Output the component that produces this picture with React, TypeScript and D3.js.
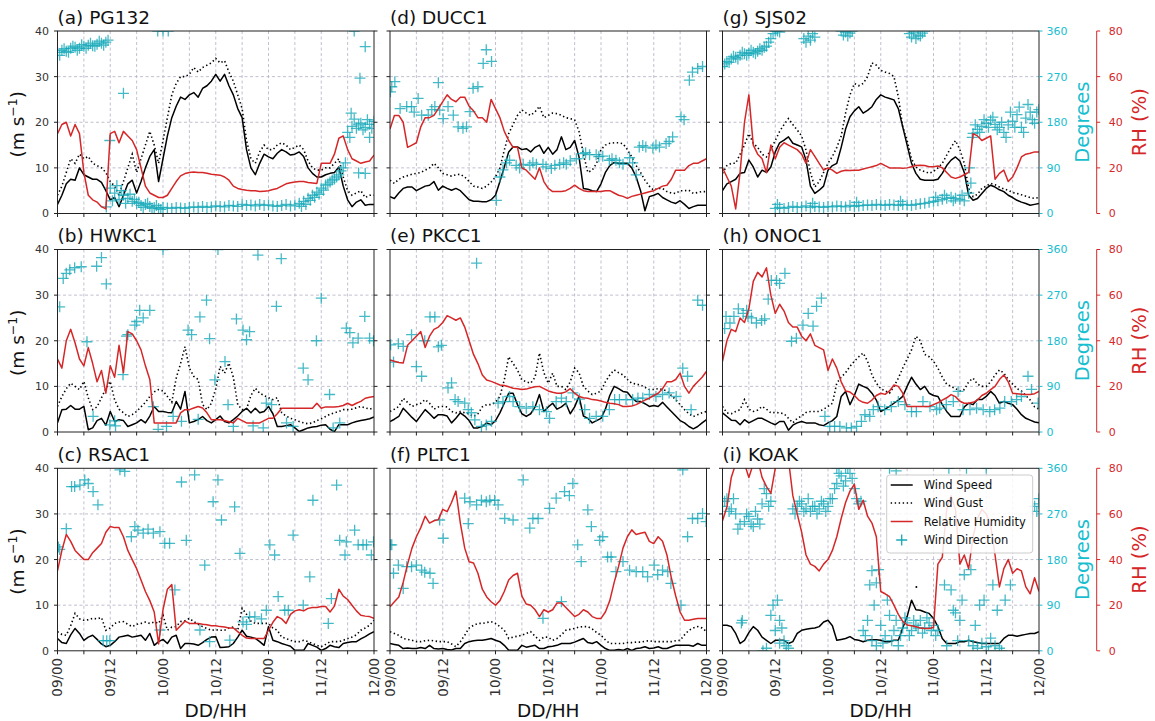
import * as d3 from 'd3'

type Pt = [number, number | null]

// ---- axes / layout values ----
const X_TICKS = [0, 12, 24, 36, 48, 60, 72]
const X_TICK_LABELS = ['09/00', '09/12', '10/00', '10/12', '11/00', '11/12', '12/00']
const X_MINOR = [0, 6, 12, 18, 24, 30, 36, 42, 48, 54, 60, 66, 72]
const SPD_TICKS = [0, 10, 20, 30, 40]
const DIR_TICKS = [0, 90, 180, 270, 360]
const RH_TICKS = [0, 20, 40, 60, 80]
const TITLES = ['(a) PG132', '(b) HWKC1', '(c) RSAC1', '(d) DUCC1', '(e) PKCC1', '(f) PLTC1', '(g) SJS02', '(h) ONOC1', '(i) KOAK']
const LEGEND_LABELS = ['Wind Speed', 'Wind Gust', 'Relative Humidity', 'Wind Direction']

// ---- PG132 (hourly from 09/00) ----
const PG132_SPD = [2, 4, 6.5, 7.5, 7.3, 10, 8.5, 8, 7.5, 7.5, 6.8, 5,
  3, 3.5, 1.5, 4, 6.5, 7.3, 4.5, 7, 10, 12.5, 14, 7,
  12, 17, 21, 23.5, 25.5, 25, 26, 26.5, 25.5, 27.4, 28, 29,
  30.5, 29, 30.5, 28, 26, 23, 21, 14, 10, 8.5, 11, 13,
  12.4, 12, 13.2, 14, 13.5, 12.8, 13, 13.5, 12.5, 10, 8.8, 8,
  8, 8.5, 8.8, 9, 10.2, 6, 3, 1.5, 2.5, 3, 1.8, 2,
  2]
const PG132_GUST = [4, 6, 9, 12, 11, 13, 12, 12.5, 11, 10.5, 10, 9,
  7, 6, 4, 7, 10, 13, 9, 12, 15, 18, 15, 11,
  16, 21, 26, 28.5, 30, 30, 30.5, 32, 31, 32, 32.5, 33,
  34, 33, 33.5, 31, 29, 26, 23, 16, 12, 11, 13.5, 15,
  14, 14, 15, 15.5, 15, 14, 14.5, 15, 14, 11.5, 10, 9.5,
  9.5, 10, 10, 11, 12, 8, 5, 4, 4.5, 5, 3.5, 4,
  4]
const PG132_RH = [35, 39, 40, 34, 39, 35, 18, 8, 6, 5, 3, 2,
  35, 36, 31, 36, 34, 32, 28, 20, 12, 9, 8, 7,
  7, 8, 11, 14, 16.5, 17.5, 18, 18.2, 18, 18, 17.6, 17.2,
  17, 16.8, 16, 14.6, 12, 11, 10.5, 10.2, 10, 10, 9.6, 9.8,
  10, 10.5, 11, 12, 13, 13.5, 13.8, 14, 14, 13.6, 13.4, 13.2,
  22, 22, 22, 26, 33, 34, 28, 24, 23, 22, 22.6, 23,
  25.6]
const PG132_DIR = [318, 322, 320, 326, 328, 326, 330, 332, 331, 334, 336, 338,
  50, 40, 28, 36, 30, 24, 20, 16, 18, 14, 12, 10,
  12, 11, 10, 12, 11, 10, 12, 13, 12, 14, 12, 13,
  15, 14, 13, 16, 15, 14, 18, 16, 17, 15, 18, 16,
  17, 15, 14, 16, 18, 15, 17, 20, 24, 30, 36, 42,
  50, 56, 62, 68, 76, 90, 160, 172, 168, 178, 170, 176,
  182]
const PG132_DIR_X: [number, number][] = [[0.5, 312], [1.5, 325], [2.5, 318], [3.5, 330], [4.5, 322], [5.5, 333],
  [6.5, 326], [7.5, 336], [8.5, 330], [9.5, 340], [10.5, 332], [11.5, 342], [11.1, 13], [11.9, 144], [12.5, 25],
  [13.5, 55], [14.5, 45], [15, 237], [15.5, 20], [16.5, 38], [17.5, 28], [18.5, 22], [19.5, 12], [20.5, 20],
  [21.5, 10], [22.5, 16], [23.5, 8], [22.8, 360], [24, 360], [25.2, 360], [55.5, 14], [56.5, 18], [57.5, 26],
  [58.5, 32], [59.5, 38], [60.5, 46], [61.5, 58], [62.5, 66], [63.5, 72], [64.5, 84], [65.5, 100], [66.5, 150],
  [67.5, 186], [68.5, 175], [69.5, 165], [70.5, 185], [71.5, 168], [67.5, 360], [68.5, 80], [70, 329],
  [68.8, 267], [70, 79], [71, 150], [66.8, 198]]

// ---- HWKC1 ----
const HWKC1_SPD = [2, 4.9, 5, 5.8, 5, 5, 5.6, 0.5, 0.9, 2.5, 3, 1.5,
  4.5, 2.3, 2.7, 2.5, 1.2, 1.6, 2, 2.7, 2, 3.5, 5.6, 4.5,
  4.5, 4.3, 4.2, 6.7, 5, 8.9, 2, 2.3, 2.7, 3.4, 2.5, 2,
  2.7, 3.5, 2.3, 2, 2.7, 3.5, 4.5, 5.2, 4.2, 5.2, 4.2, 4.5,
  5.6, 4, 1.2, 1.2, 1.4, 1.6, 0.9, 0.1, 0.5, 0.9, 1.1, 1.2,
  1.5, 1.6, 0.6, 0.1, 1.6, 1.6, 1.6, 2, 2.3, 2.5, 2.7, 2.9,
  3.3]
const HWKC1_GUST = [5.6, 7.8, 9.5, 10.7, 10, 9.3, 11.1, 7.5, 4.9, 5.5, 7.5, 9.5,
  11.1, 7, 5, 4.2, 3.4, 3.8, 4.5, 5.5, 6.5, 7.8, 8.8, 9.3,
  9, 7.8, 6.5, 11.8, 15, 18.7, 14, 12.2, 11.5, 6, 4.9, 6.3,
  9.5, 14.4, 12.9, 15.1, 12, 6, 4.9, 5, 8, 9.6, 8.5, 8,
  7.5, 7.1, 7.5, 4.2, 3.5, 3, 2.7, 2.3, 2, 1.8, 2, 2.5,
  2.9, 3.4, 3.9, 4.2, 4.5, 4.9, 4.9, 5, 5.3, 5.6, 5.3, 5,
  5.3]
const HWKC1_RH = [32, 28, 40, 45, 39, 32, 29, 37, 30, 22, 27, 17,
  29, 24, 38, 26, 44, 43, 40, 36, 29, 23, 4, 4,
  4, 4, 4, 4, 8.4, 9.8, 9.8, 10.5, 11.2, 10.5, 8.4, 5.4,
  5.4, 5.4, 5, 4.5, 4, 6, 5, 4, 4, 4, 4, 5,
  6, 6, 8, 10.4, 10.4, 10.4, 10.4, 10.4, 10.4, 10.4, 10.4, 12.6,
  10.4, 11, 11, 11, 11.2, 11.6, 12.6, 11.6, 12.6, 13.4, 14.8, 15.2,
  15.6]
const HWKC1_DIR_X: [number, number][] = [[0.5, 247], [1.3, 303], [2, 313], [2.8, 320], [3.9, 324], [5.4, 326],
  [6.7, 178], [8.1, 31], [8.9, 327], [10, 344], [11.1, 292], [11.9, 14], [13, 22], [13.2, 12], [14.9, 113],
  [15.7, 189], [16, 192], [17.6, 211], [18, 218], [18.7, 240], [19.5, 225], [21, 240], [21.8, 50], [22.9, 5],
  [24, 360], [24.8, 11], [26.3, 31], [28.2, 21], [29.7, 201], [30.5, 192], [32, 25], [32.4, 227], [33.9, 260],
  [34.6, 184], [35.8, 103], [36.5, 360], [38.1, 139], [38.8, 54], [40, 11], [40.7, 223], [42.2, 201], [43, 182],
  [43.7, 198], [44.5, 12], [45.6, 349], [46.8, 8], [47.5, 57], [48.7, 54], [49.8, 248], [50.9, 342], [52.1, 18],
  [53.6, 11], [55.9, 126], [57, 103], [58.9, 180], [60, 264], [61.9, 74], [62.7, 8], [64.2, 18], [65.7, 205],
  [66.5, 196], [67.2, 176], [68.4, 185], [69.9, 228], [71, 185], [71.9, 180]]

// ---- RSAC1 ----
const RSAC1_SPD = [2.7, 1.8, 1.6, 3.5, 4.9, 3.8, 2.3, 3, 3.4, 2.5, 1.5, 0.9,
  1.2, 2, 3, 3.2, 3.4, 3, 3.2, 3.4, 2.3, 3.8, 1.2, 2,
  2.5, 1.6, 3, 3.4, 0.5, 1.6, 1.6, 1.5, 1.2, 1.8, 2.5, 3,
  3.1, 0.7, 0.8, 0.9, 1.6, 3, 4.5, 3.2, 3, 2.7, 2, 1.2,
  5.3, 2.3, 2, 1.6, 1.3, 1, 0.1, 0.1, 0.1, 1.6, 1.2, 0.8,
  0.1, 0.5, 1.2, 0.9, 0.7, 1.6, 1.8, 2, 2, 2.6, 3.1, 3.7,
  4.2]
const RSAC1_GUST = [4.2, 3.6, 3.4, 5.5, 8.2, 7, 6.7, 6.8, 7.1, 7, 7.3, 4.5,
  5, 6, 6.3, 6.4, 5.8, 5.3, 5.8, 6, 6.3, 6, 6.3, 6,
  7.8, 4.5, 5.2, 5.3, 6.4, 6.6, 7.1, 6.4, 5.8, 5.3, 4.9, 4.5,
  4.6, 4.5, 4.5, 5, 5.2, 4.5, 9.3, 8, 6.5, 6, 6, 6,
  6, 5, 4.5, 3, 2.7, 2.3, 2, 2, 2.3, 2, 1.6, 1.2,
  0.9, 1.4, 2, 2, 2, 2.3, 2.7, 3, 3.5, 4.5, 5, 5.6,
  6.7]
const RSAC1_RH = [35, 44, 51, 48, 44, 42, 40, 40, 43, 45, 47, 52,
  54.5, 54, 54, 50, 44, 40, 36, 31, 26, 22, 17, 3,
  18, 27, 29, 9, 11, 13, 12, 12, 12, 11.6, 11.4, 11,
  11, 10.6, 10.4, 10, 10, 8.4, 6.8, 5.6, 5.4, 5.4, 5.4, 5.4,
  9, 12.5, 15, 14, 12, 16, 17.5, 18, 17.5, 18.6, 19, 19,
  19.4, 19.4, 17, 19.6, 27, 24, 22.5, 20, 17.5, 15.6, 15.2, 15,
  14.2]
const RSAC1_DIR_X: [number, number][] = [[0.2, 205], [0.5, 200], [2, 241], [3.2, 324], [3.9, 324], [5.1, 327],
  [6.2, 337], [7, 330], [8.1, 314], [9.2, 288], [10.4, 20], [11.2, 20], [11.9, 20], [14.2, 357], [15.3, 354],
  [16.8, 225], [17.6, 245], [18.3, 238], [19.5, 232], [20.6, 240], [21.8, 232], [23.3, 235], [23.3, 41],
  [24.4, 212], [25.5, 212], [26.7, 120], [28.2, 333], [29.3, 218], [31.2, 347], [32.4, 41], [33.5, 169],
  [34.6, 18], [35.4, 294], [36.5, 337], [37.3, 258], [39.2, 21], [40.3, 284], [41.5, 192], [42.2, 57],
  [43, 52], [43.7, 67], [44.9, 67], [46.4, 63], [47.5, 80], [48.3, 209], [49.4, 189], [50.2, 107], [51.7, 80],
  [52.5, 80], [53.6, 228], [55.9, 90], [57.4, 146], [58.1, 297], [61.6, 54], [62.3, 103], [63.5, 327],
  [64.2, 218], [65.4, 189], [65.7, 215], [67.6, 238], [68.4, 209], [69.5, 209], [70.3, 209], [71.4, 189],
  [71.9, 215]]

// ---- DUCC1 ----
const DUCC1_SPD = [3.7, 3.3, 4.5, 5.5, 5.8, 5.8, 5, 5.5, 6, 6.2, 7, 5.1,
  6, 5.5, 5.1, 5.5, 5, 4, 3, 2.7, 2.7, 2.6, 2.6, 3,
  4, 7, 10.2, 13.5, 14.6, 14.6, 14, 14.2, 13.5, 14.5, 15, 13.2,
  14.5, 13, 14, 16.8, 14, 14.5, 16, 12.4, 5.5, 5.3, 5, 4.8,
  6.5, 9, 10.5, 11.2, 11, 11, 11, 10, 8, 5, 0.6, 3.7,
  4, 4.4, 3.5, 3, 2.5, 2.2, 2.8, 2, 1.1, 1.5, 1.8, 1.8,
  1.8]
const DUCC1_GUST = [7.3, 6.6, 7.5, 8, 8.3, 8.6, 8.8, 9, 9.5, 10, 11, 10,
  8.8, 8.5, 8.2, 8.5, 8.6, 8, 7, 6, 5.8, 5.5, 6, 6.9,
  8, 10, 13.9, 17.5, 19.5, 21.5, 22.7, 22, 21.5, 22.3, 23.5, 21,
  21.5, 22, 21.9, 21.5, 21, 20.8, 20.5, 18, 13, 9, 9.5, 11,
  14, 15, 15.4, 15.5, 15.5, 15.3, 14, 12.4, 10.5, 9, 7.3, 6,
  5.1, 5.5, 5.5, 4.8, 4.5, 4.4, 5, 5, 5.1, 4.4, 4.6, 4.8,
  4.8]
const DUCC1_RH = [37, 43, 43, 40, 29, 30, 31, 38, 42, 42, 43, 46,
  49, 52, 50, 49, 51, 51, 47, 45, 42, 42, 40, 50,
  46, 42, 36, 32, 29, 29, 20, 19, 17, 15, 20, 14,
  11, 9.6, 9.6, 9.6, 10, 11, 12.4, 11, 10, 9.6, 9.6, 9.6,
  9.6, 10, 10, 9, 8, 7.5, 6.6, 7.5, 8, 8.5, 9, 9.5,
  10, 11, 12, 12.4, 15, 19, 19, 19, 21, 22, 22, 23,
  24]
const DUCC1_DIR_X: [number, number][] = [[0.1, 240], [0.4, 250], [1.1, 260], [2.3, 207], [3.8, 211], [4.9, 211],
  [5.5, 200], [6.4, 227], [7.2, 194], [8.7, 194], [9.5, 205], [10.2, 211], [11, 258], [11.3, 204], [12.1, 187],
  [13.2, 211], [14.4, 194], [15.5, 171], [16.6, 168], [17.4, 171], [18.2, 201], [18.9, 247], [20, 250],
  [21.2, 296], [21.9, 323], [23.1, 300], [24.2, 26], [25, 72], [25.7, 86], [26.5, 100], [27.2, 105], [28.7, 95],
  [29.5, 90], [30.3, 97], [31.8, 95], [32.5, 100], [33.3, 97], [34.8, 97], [35.5, 92], [36.7, 89], [37.5, 95],
  [38.6, 97], [39.5, 100], [40.1, 97], [41, 104], [42.4, 108], [43.9, 118], [44.5, 120], [45.4, 116],
  [46.9, 116], [47.5, 112], [48.4, 113], [49.9, 105], [50.5, 108], [51.4, 105], [52.2, 100], [53, 97],
  [54.5, 110], [55.2, 100], [56, 76], [56.7, 131], [57.5, 134], [58.2, 131], [59.8, 129], [60.5, 135],
  [61.3, 131], [62.8, 138], [63.5, 142], [64.3, 151], [66.2, 191], [66.9, 185], [68.1, 263], [68.8, 279],
  [70, 286], [71.1, 290]]

// ---- PKCC1 ----
const PKCC1_SPD = [2.3, 2.8, 3.4, 5.2, 4.2, 3.2, 2.3, 3.6, 4.9, 4, 3, 3.8,
  3.8, 3.5, 2, 3, 4.2, 3.5, 2.5, 0.9, 0.9, 1.2, 2, 1.6,
  2.5, 4.2, 6.3, 8.5, 8.5, 6, 4, 3.4, 4, 5.5, 8.2, 4.5,
  5.5, 6.3, 5, 5.5, 6.3, 4, 5.5, 7.8, 3.5, 3, 2, 2.5,
  3, 5, 8, 10, 9.5, 8.9, 8.7, 7.5, 6.7, 6.7, 6.2, 5.6,
  5.8, 5.6, 6.5, 5.5, 4.5, 3.5, 2.5, 2, 1.2, 0.7, 1.2, 2,
  2.7]
const PKCC1_GUST = [4.5, 5, 5.6, 7.4, 6.5, 5.6, 6, 6.3, 7.1, 6.3, 5, 5.5,
  5.6, 5.5, 4.5, 4.2, 4.5, 4.2, 4, 3.4, 4, 5.5, 6, 6,
  6.5, 7.8, 11.4, 16.5, 15, 13.6, 11.4, 11, 10.7, 12, 17.3, 13,
  10.7, 12.9, 10, 10, 9.3, 11, 14, 13, 10, 9, 8.2, 8.5,
  9, 11, 12.5, 13.6, 13, 12.5, 11.5, 10.7, 10.5, 10.3, 9.8, 9.3,
  9.3, 9.5, 9.3, 9, 8, 7.1, 6, 4.9, 4, 3.4, 3.8, 4.2,
  4.5]
const PKCC1_RH = [31.6, 31, 30.5, 30.2, 38, 40, 42, 44, 37, 42, 45, 46,
  48, 51, 50, 49, 50, 46, 40, 34, 30, 25, 22.8, 22.2,
  21.4, 20.6, 20.4, 19.8, 19.2, 19, 18.6, 18.8, 19.4, 19.8, 20, 19,
  18, 17.4, 17, 17, 17.6, 19, 17, 15.6, 15, 14.8, 14.2, 14,
  13.6, 13, 12.6, 12.4, 12, 11.2, 11.2, 11.4, 12, 13, 14, 14.8,
  16, 17, 19, 22, 22, 23, 25.8, 20, 17, 20, 22, 24,
  26.6]
const PKCC1_DIR_X: [number, number][] = [[0.15, 172], [0.8, 138], [1.9, 174], [3, 169], [4.9, 192], [6, 129],
  [7.2, 110], [7.9, 180], [9.1, 227], [10.2, 227], [11, 168], [11.7, 171], [13.2, 87], [14, 97], [14.8, 64],
  [15.5, 60], [17, 57], [17.8, 44], [18.5, 38], [19.7, 333], [19.3, 24], [20.8, 11], [21.9, 14], [23.1, 21],
  [24.6, 57], [25.7, 60], [27.2, 70], [28, 60], [29.5, 50], [31, 47], [32.5, 50], [34, 44], [35.6, 40],
  [36.3, 27], [37.8, 60], [39, 67], [40.1, 60], [41.6, 77], [43.1, 65], [44.3, 44], [45.4, 27], [46.9, 31],
  [48.4, 31], [49.9, 44], [51.1, 64], [52.2, 64], [53.7, 64], [55.2, 64], [56.4, 67], [57.5, 67], [59, 74],
  [60.5, 70], [62, 74], [63.5, 77], [65.1, 70], [66.6, 126], [67.7, 110], [68.5, 44], [70, 260], [71.1, 250]]

// ---- PLTC1 ----
const PLTC1_SPD = [1.6, 1.4, 1.2, 0.5, 0.6, 0.5, 0.5, 0.7, 0.5, 1.2, 0.5, 0.4,
  0.5, 0.3, 0.2, 0.5, 0.5, 1.6, 2, 2.2, 2.3, 2.3, 2.5, 2.7,
  2.3, 2, 1.2, 0.1, 0.1, 0.1, 1.2, 0.8, 1, 1.2, 0.5, 0.5,
  0.9, 1, 1.2, 1.6, 1.6, 1.6, 1.9, 2.3, 2.7, 1.8, 1.6, 2,
  1.2, 0.5, 0.1, 0.1, 0.3, 0.1, 0.5, 0.1, 0.5, 0.6, 0.9, 0.5,
  0.6, 0.9, 0.5, 0.5, 0.9, 1.2, 1.2, 1.2, 1.2, 1, 1.6, 1.2,
  1.2]
const PLTC1_GUST = [4.2, 3.8, 3.4, 2.7, 2.5, 2.3, 2, 2, 2.2, 2.3, 2.2, 2,
  2, 2, 1.5, 0.9, 2, 3.4, 5, 5.6, 6, 6, 6.2, 6.4,
  6, 5.3, 4.5, 2.7, 3, 3.2, 3.4, 3.8, 4.2, 3.2, 2.3, 3,
  3, 2.3, 2.7, 3.5, 4.5, 4.7, 4.9, 5.2, 5.3, 5.3, 4.8, 4,
  3.4, 2.4, 1.6, 1.6, 1.6, 1.6, 1.8, 1.8, 1.9, 1.9, 2.1, 2.2,
  2, 2, 2, 2, 2, 2.2, 2.3, 3.5, 4.5, 5, 5.3, 5,
  4.2]
const PLTC1_RH = [19.3, 21.5, 23.6, 30, 38, 45, 50, 54, 59, 56, 57, 57.5,
  62, 61, 65, 70, 56, 45, 39, 38.5, 34, 27, 23.6, 21.5,
  20, 22, 26, 31, 33, 34, 24, 20.5, 20, 18, 15, 18,
  17, 18, 21, 21, 19, 17, 15, 16, 18, 17, 15, 14.2,
  14.2, 17, 22, 30, 37, 45, 50, 53, 51, 51.5, 52, 48,
  47, 50, 48, 42, 32, 24, 17, 13.4, 13.4, 13.8, 14.2, 14.2,
  14.2]
const PLTC1_DIR_X: [number, number][] = [[0.1, 209], [0.4, 209], [0.8, 153], [1.9, 169], [3, 123], [3.8, 166],
  [4.9, 166], [6, 169], [7.2, 159], [7.9, 155], [9.1, 153], [9.8, 133], [11.3, 258], [12.1, 222], [17, 301],
  [17.8, 251], [18.2, 294], [19.7, 288], [20.8, 297], [21.9, 294], [22.7, 297], [23.8, 297], [24.6, 288],
  [26.1, 261], [28, 258], [30.3, 337], [31.8, 242], [32.5, 261], [33.7, 261], [34.8, 64], [36.3, 281],
  [37.8, 301], [39, 97], [39.7, 314], [40.8, 306], [41.6, 330], [42.7, 209], [43.5, 176], [45, 278],
  [45.8, 245], [47.7, 218], [48.4, 225], [49.5, 185], [50.3, 185], [51.4, 156], [53, 176], [54.5, 159],
  [56, 156], [57.5, 156], [58.6, 146], [60.1, 169], [60.9, 150], [62, 159], [63.2, 156], [63.9, 133],
  [66.2, 90], [66.6, 357], [67.7, 225], [68.8, 261], [70, 261], [71.1, 271], [71.9, 255]]

// ---- SJS02 ----
const SJS02_SPD = [5, 6.5, 7, 7.5, 8.8, 9, 11.7, 10.2, 8, 9.5, 9, 10.2,
  13.5, 15.5, 16.1, 16.8, 15.4, 15, 14.6, 11.7, 6, 4.4, 5.1, 6,
  9.5, 10.5, 11, 14.5, 18.5, 21.2, 22.5, 23.4, 22, 22.6, 23.4, 25,
  26, 25.5, 25.2, 24.9, 23, 19, 15, 11, 8.8, 7.5, 7.3, 7.3,
  7.3, 7.5, 8.8, 10.5, 11.7, 12.4, 11.5, 9, 4, 2.9, 3.3, 4.4,
  5.5, 6.2, 5.8, 5.2, 4.8, 4, 3.5, 2.9, 2.5, 2.2, 1.8, 2,
  2.2]
const SJS02_GUST = [8.8, 10.5, 11, 11, 13, 15, 17.5, 15.4, 14.5, 13, 12.4, 14,
  16, 18, 19.5, 20.8, 19.5, 18.3, 17, 13.9, 9, 5.8, 7, 9,
  11, 12.5, 14.5, 17, 22, 26, 28.5, 28, 28.5, 30, 33, 32.5,
  31.4, 31, 30.7, 30, 25.6, 19, 16, 12, 10.2, 9.5, 9.2, 8.8,
  9.2, 10, 11, 12.8, 14.5, 16, 14, 11, 5.5, 3.7, 4.2, 5.5,
  6, 6.6, 6.3, 5.8, 5.4, 5.1, 4.6, 4.4, 4.1, 3.8, 3.5, 3.3,
  3.5]
const SJS02_RH = [20, 16, 12, 2, 18, 40, 52, 30, 26, 24, 18, 30,
  24, 29, 31, 30, 29, 28, 26, 22, 28, 25, 22, 19,
  20, 19, 17.6, 18.5, 19, 18.8, 19, 19, 19.5, 20, 20.5, 21,
  22, 21, 20, 20, 20, 19.8, 20, 20.5, 21, 21.2, 21, 20.5,
  20.5, 20.8, 20, 18, 16, 15.4, 16, 17, 18, 35, 34, 32,
  33, 34, 15, 17.6, 19, 14, 16, 20, 24.8, 26, 26.4, 27,
  27]
const SJS02_DIR = [290, 300, 305, 308, 312, 315, 316, 318, 320, 322, 330, 345,
  10, 12, 10, 12, 14, 12, 13, 15, 12, 14, 13, 12,
  14, 13, 15, 14, 13, 16, 14, 15, 16, 17, 16, 18,
  17, 16, 18, 17, 16, 18, 17, 16, 18, 19, 20, 22,
  24, 25, 28, 30, 32, 30, 28, 25, 40, 158, 166, 172,
  178, 184, 176, 170, 160, 175, 182, 195, 170, 188, 200, 178,
  205]
const SJS02_DIR_X: [number, number][] = [[0.5, 295], [1.5, 298], [2.5, 310], [3.5, 305], [4.5, 318], [5.5, 312],
  [6.5, 322], [7.5, 315], [8.5, 325], [9.5, 328], [10.5, 338], [11.5, 355], [12, 360], [12.5, 360], [13, 358],
  [18.5, 345], [19, 338], [19.5, 350], [20, 342], [20.5, 355], [21, 348], [27, 360], [27.5, 352], [28, 358],
  [28.5, 350], [29, 356], [29.5, 360], [42.5, 355], [43, 348], [43.5, 358], [44, 345], [44.5, 352], [45, 350],
  [45.5, 356], [46, 360], [12.5, 18], [20.5, 20], [30.5, 22], [40.5, 24], [48.5, 32], [50.5, 36], [52.5, 25],
  [54.5, 36], [56.2, 90], [56.5, 60], [56.8, 150], [57.5, 175], [58.5, 160], [59.5, 185], [60.5, 170],
  [61.5, 190], [62.5, 165], [63.5, 180], [64.5, 150], [65.5, 200], [66.5, 170], [67.5, 210], [68.5, 160],
  [69.5, 215], [70.5, 185], [71.5, 200]]

// ---- ONOC1 ----
const ONOC1_SPD = [4.2, 3.4, 2.6, 2.5, 1.6, 2.7, 2, 2.5, 3, 3, 2.5, 2,
  1.6, 2.3, 2.3, 0.4, 1.5, 2, 2.3, 2, 2, 2, 1.6, 1.4,
  2, 2.5, 3.4, 7.8, 8.9, 6, 8, 10.5, 10, 9.6, 8.5, 7,
  4.5, 5, 5.6, 6.3, 7, 7.8, 10, 12, 10.5, 9.3, 10, 8.5,
  8, 7.8, 6, 4.5, 3.4, 3.4, 3.4, 5.5, 6.3, 6, 7.1, 7.1,
  7.8, 8.9, 8, 6.3, 6.7, 6.3, 6, 5, 3.8, 3, 2.6, 2.2,
  2]
const ONOC1_GUST = [5.6, 4.2, 4, 4.5, 4.9, 7.1, 5, 4.5, 4.8, 5.6, 5, 4.2,
  4.3, 4.2, 4, 3, 2, 3, 3.5, 4.3, 4.5, 4.5, 4.5, 5,
  5.6, 6.3, 10.7, 12, 13, 14.4, 15.5, 16.5, 17.3, 15.5, 12.5, 10.7,
  9.5, 9, 8.5, 10, 11.8, 14, 16, 18, 21, 20, 17, 16.5,
  15.5, 14, 12, 10.5, 10, 9.5, 9, 9.3, 11, 11.8, 10.5, 10,
  10, 11, 12.5, 13.6, 12.9, 11.5, 10.5, 9.5, 9, 8, 7, 5.5,
  5]
const ONOC1_RH = [31, 40, 45, 44, 50, 48, 54, 66, 70, 68, 72, 60,
  52, 56, 53, 48, 46, 46, 42, 40, 43, 38, 37, 36,
  27, 32, 28, 22, 18, 17.5, 16, 14, 13, 12.6, 14, 16,
  17, 16.5, 18, 20.6, 20, 17, 11.2, 11.2, 11.2, 11.2, 11.2, 11.2,
  12, 12.8, 14, 15, 16.4, 15.5, 13.5, 12.6, 12.6, 13, 14, 16,
  17, 18.6, 20, 23, 25, 22, 17, 16.8, 16.6, 16.4, 16.4, 16.8,
  17.8]
const ONOC1_DIR_X: [number, number][] = [[0.5, 204], [0.8, 228], [1.7, 215], [2.6, 228], [3.6, 243], [4.7, 234],
  [5.5, 240], [5.8, 228], [6.6, 225], [7.7, 215], [8.9, 220], [9.6, 223], [10.4, 262], [11.1, 299], [12.3, 299],
  [13, 293], [14.2, 313], [15.7, 179], [16.8, 185], [18.3, 211], [19.5, 234], [20.6, 209], [21.4, 248],
  [22.5, 264], [23.3, 31], [24.4, 11], [25.5, 11], [26.7, 11], [28.2, 8], [29.3, 8], [30.5, 11], [31.6, 21],
  [32.4, 34], [33.5, 31], [34.3, 44], [35.4, 50], [36.9, 44], [38.4, 50], [40, 60], [41.5, 54], [43, 40],
  [44.1, 40], [45.6, 60], [47.2, 50], [48.7, 44], [49.4, 47], [50.9, 54], [52.5, 60], [53.6, 80], [54.7, 44],
  [56.3, 44], [57.8, 47], [59.3, 44], [60.8, 40], [61.9, 44], [63.1, 47], [64.2, 60], [65.7, 60], [66.9, 64],
  [68, 70], [69.5, 110], [70.3, 84], [71.8, 57]]

// ---- KOAK ----
const KOAK_SPD = [5.6, 5.6, 5.3, 3.8, 1.6, 2.3, 4, 5.3, 4.5, 3, 2.3, 1.6,
  2.3, 2.3, 2.3, 1.6, 2, 3.8, 4.5, 4.7, 4.9, 5, 5.3, 6.3,
  6.7, 5.5, 2.3, 2.5, 2.7, 3.1, 2.5, 2.3, 2, 2.3, 2.4, 2.4,
  2.3, 2, 2, 2.3, 2.3, 5, 7.5, 11.1, 9, 8.9, 8.5, 8.2,
  7.1, 5.3, 2.7, 1.6, 1.6, 1.6, 2, 2, 2.3, 2, 1.8, 1.6,
  1.6, 1.6, 1.6, 1.6, 2.7, 3.4, 3.4, 3.2, 3.4, 3.6, 3.8, 3.8,
  4.2]
const KOAK_GUST: Pt[] = [[44.1, 14]]
const KOAK_RH = [57, 63, 76, 82, 84, 82, 76, 82, 84, 76, 72, 69,
  80, 84, 86, 84, 68, 60, 52, 42, 38, 37, 35, 38,
  40, 44, 50, 58, 65, 70, 73, 62, 66, 59, 56, 50,
  26, 25, 23.7, 20, 16, 12.9, 11.3, 11, 10.5, 10, 9.8, 9.8,
  10.2, 38, 41, 62, 68, 62, 38, 42, 36, 50, 58, 62,
  60, 55, 42, 28, 36, 40, 34, 36, 35, 28, 25, 32,
  26]
const KOAK_DIR = [285, 300, 280, 270, 250, 255, 265, 245, 260, 290, 310, 295,
  40, 60, 20, 5, 280, 285, 290, 280, 275, 285, 280, 290,
  285, 300, 330, 345, 335, 350, 320, 290, 40, 60, 20, 10,
  50, 30, 70, 40, 10, 45, 55, 40, 50, 60, 45, 55,
  50, 40, null, 10, 120, 75, 60, 150, 20, 10, 5, 15,
  8, 25, 10, 5, null, null, null, null, null, null, null, 285,
  290]
const KOAK_DIR_X: [number, number][] = [[0.5, 295], [1.5, 275], [2.5, 300], [3.5, 240], [4.3, 55], [4.5, 60],
  [5.5, 270], [6.5, 250], [7.5, 275], [8.5, 250], [9.5, 320], [10.5, 285], [11, 70], [11.5, 90], [12.5, 100],
  [13, 15], [13.5, 45], [14.5, 10], [10, 5], [9.2, 0], [16.5, 270], [17.5, 295], [18.5, 275], [19.5, 300],
  [20.5, 285], [21.5, 270], [22.5, 295], [23.5, 275], [24.5, 300], [25.5, 320], [26.5, 350], [27.5, 325],
  [28.5, 360], [29.5, 340], [30.5, 300], [31.5, 295], [32.5, 30], [33.5, 130], [34.5, 90], [35.5, 160],
  [36.5, 15], [37.5, 100], [38.5, 20], [39.5, 60], [40.5, 30], [41.5, 65], [42.5, 30], [43.5, 60],
  [44.5, 45], [45.5, 35], [46.5, 65], [47.5, 40], [48.5, 30], [50.5, 130], [51.5, 360], [52.5, 80],
  [53.5, 20], [54.5, 100], [55.5, 360], [56.5, 160], [57.5, 50], [58.5, 90], [59.5, 100], [60.5, 0],
  [61.5, 130], [62.5, 80], [63.5, 0], [60, 360], [64.3, 100], [65.5, 130], [38, 360], [39.5, 355],
  [26, 360], [28, 360], [34, 158], [35, 134], [71.5, 275], [72, 300]]

// ---- layout ----
const W = 1155
const H = 721
const COL_X = [57.5, 390, 722.5]
const ROW_Y = [31, 249.5, 468.3]
const PW = 316.5
const PH = 182.5
const TEAL = '#17a9b9'
const TEAL_TXT = '#17becf'
const RED = '#d62728'
const FONT = 'DejaVu Sans, sans-serif'

const hourly = (vals: (number | null)[]): Pt[] => vals.map((v, i) => [i, v] as Pt)

const STATIONS = [
  { spd: hourly(PG132_SPD), gust: hourly(PG132_GUST), rh: hourly(PG132_RH), dir: [...hourly(PG132_DIR), ...PG132_DIR_X] },
  { spd: hourly(HWKC1_SPD), gust: hourly(HWKC1_GUST), rh: hourly(HWKC1_RH), dir: HWKC1_DIR_X as Pt[] },
  { spd: hourly(RSAC1_SPD), gust: hourly(RSAC1_GUST), rh: hourly(RSAC1_RH), dir: RSAC1_DIR_X as Pt[] },
  { spd: hourly(DUCC1_SPD), gust: hourly(DUCC1_GUST), rh: hourly(DUCC1_RH), dir: DUCC1_DIR_X as Pt[] },
  { spd: hourly(PKCC1_SPD), gust: hourly(PKCC1_GUST), rh: hourly(PKCC1_RH), dir: PKCC1_DIR_X as Pt[] },
  { spd: hourly(PLTC1_SPD), gust: hourly(PLTC1_GUST), rh: hourly(PLTC1_RH), dir: PLTC1_DIR_X as Pt[] },
  { spd: hourly(SJS02_SPD), gust: hourly(SJS02_GUST), rh: hourly(SJS02_RH), dir: [...hourly(SJS02_DIR), ...SJS02_DIR_X] },
  { spd: hourly(ONOC1_SPD), gust: hourly(ONOC1_GUST), rh: hourly(ONOC1_RH), dir: ONOC1_DIR_X as Pt[] },
  { spd: hourly(KOAK_SPD), gust: KOAK_GUST, rh: hourly(KOAK_RH), dir: [...hourly(KOAK_DIR), ...KOAK_DIR_X] },
]

function plus(cx: number, cy: number, r = 5.5) {
  return `M${cx - r},${cy}H${cx + r}M${cx},${cy - r}V${cy + r}`
}

function Panel({ idx }: { idx: number }) {
  const col = Math.floor(idx / 3)
  const row = idx % 3
  const st = STATIONS[idx]
  const x = d3.scaleLinear().domain([0, 72]).range([0, PW])
  const yS = d3.scaleLinear().domain([0, 40]).range([PH, 0])
  const yD = d3.scaleLinear().domain([0, 360]).range([PH, 0])
  const yR = d3.scaleLinear().domain([0, 80]).range([PH, 0])
  const mk = (s: d3.ScaleLinear<number, number>) =>
    d3.line<Pt>().defined(d => d[1] != null).x(d => x(d[0])).y(d => s(d[1] as number))
  const clipId = `clip${idx}`
  const isolated = st.gust.filter((d, i, a) => d[1] != null && a.length === 1)

  return (
    <g transform={`translate(${COL_X[col]},${ROW_Y[row]})`}>
      <clipPath id={clipId}><rect x={0} y={0} width={PW} height={PH} /></clipPath>
      {/* grid */}
      {[10, 20, 30].map(v => (
        <line key={'h' + v} x1={0} x2={PW} y1={yS(v)} y2={yS(v)} stroke="#b0b0c4" strokeWidth={0.8} strokeDasharray="3,2.5" />
      ))}
      {X_MINOR.slice(1, -1).map(v => (
        <line key={'v' + v} x1={x(v)} x2={x(v)} y1={0} y2={PH} stroke="#b0b0c4" strokeWidth={0.8} strokeDasharray="3,2.5" />
      ))}
      <g clipPath={`url(#${clipId})`}>
        <path d={mk(yS)(st.spd) || ''} fill="none" stroke="#000" strokeWidth={1.5} strokeLinejoin="round" />
        <path d={mk(yS)(st.gust) || ''} fill="none" stroke="#000" strokeWidth={1.6} strokeDasharray="1.4,2.6" />
        {isolated.map((d, i) => <circle key={'g' + i} cx={x(d[0])} cy={yS(d[1] as number)} r={1} fill="#000" />)}
        {st.dir.filter(d => d[1] != null).map((d, i) => (
          <path key={'d' + i} d={plus(x(d[0]), yD(d[1] as number))} stroke={TEAL} strokeWidth={1.3} strokeOpacity={0.8} fill="none" />
        ))}
        <path d={mk(yR)(st.rh) || ''} fill="none" stroke={RED} strokeWidth={1.5} strokeLinejoin="round" />
      </g>
      {/* frame */}
      <rect x={0} y={0} width={PW} height={PH} fill="none" stroke="#222" strokeWidth={1} />
      {SPD_TICKS.map(v => <line key={'lt' + v} x1={-3.5} x2={0} y1={yS(v)} y2={yS(v)} stroke="#222" />)}
      {DIR_TICKS.map(v => <line key={'rt' + v} x1={PW} x2={PW + 3.5} y1={yD(v)} y2={yD(v)} stroke={col === 2 ? TEAL_TXT : '#222'} />)}
      {X_MINOR.map(v => <line key={'bt' + v} x1={x(v)} x2={x(v)} y1={PH} y2={PH + 3.5} stroke="#222" />)}
      <text x={0} y={-7.5} fontSize={18.5} fontFamily={FONT} fill="#111">{TITLES[idx]}</text>
      {col === 0 && SPD_TICKS.map(v => (
        <text key={'ll' + v} x={-8.5} y={yS(v)} dy="0.36em" textAnchor="end" fontSize={11} fontFamily={FONT} fill="#333">{v}</text>
      ))}
      {col === 0 && (
        <text transform={`translate(${24 - COL_X[0]},${PH / 2 + 2}) rotate(-90)`} textAnchor="middle" fontSize={18.5} fontFamily={FONT} fill="#111">
          (m s<tspan fontSize={12.5} dy={-7}>−1</tspan><tspan dy={7}>)</tspan>
        </text>
      )}
      {col === 2 && DIR_TICKS.map(v => (
        <text key={'rl' + v} x={PW + 7.5} y={yD(v)} dy="0.36em" fontSize={11} fontFamily={FONT} fill={TEAL_TXT}>{v}</text>
      ))}
      {col === 2 && (
        <g transform={`translate(${1096.7 - COL_X[2]},0)`}>
          <line x1={0} x2={0} y1={0} y2={PH} stroke={RED} />
          {RH_TICKS.map(v => <line key={'rh' + v} x1={0} x2={3.5} y1={yR(v)} y2={yR(v)} stroke={RED} />)}
          {RH_TICKS.map(v => (
            <text key={'rhl' + v} x={12} y={yR(v)} dy="0.36em" fontSize={11} fontFamily={FONT} fill={RED}>{v}</text>
          ))}
        </g>
      )}
      {col === 2 && (
        <text transform={`translate(${1089 - COL_X[2]},${PH / 2}) rotate(-90)`} textAnchor="middle" fontSize={19.5} fontFamily={FONT} fill={TEAL_TXT}>Degrees</text>
      )}
      {col === 2 && (
        <text transform={`translate(${1146 - COL_X[2]},${PH / 2}) rotate(-90)`} textAnchor="middle" fontSize={19.5} fontFamily={FONT} fill={RED}>RH (%)</text>
      )}
      {row === 2 && X_TICKS.map((v, i) => (
        <text key={'xl' + v} transform={`translate(${x(v)},${PH + 7}) rotate(-90)`} textAnchor="end" dy="0.36em" fontSize={13.5} fontFamily={FONT} fill="#333">{X_TICK_LABELS[i]}</text>
      ))}
      {row === 2 && (
        <text x={PW / 2} y={PH + 66} textAnchor="middle" fontSize={18.5} fontFamily={FONT} fill="#111">DD/HH</text>
      )}
      {idx === 8 && <Legend />}
    </g>
  )
}

function Legend() {
  const lx = 886.7 - COL_X[2]
  const ly = 475 - ROW_Y[2]
  const rows = [10, 28, 46.5, 65]
  return (
    <g transform={`translate(${lx},${ly})`}>
      <rect x={0} y={0} width={146} height={78} rx={3} fill="#fff" fillOpacity={0.85} stroke="#ccc" />
      <line x1={4} x2={26} y1={rows[0]} y2={rows[0]} stroke="#000" strokeWidth={1.5} />
      <line x1={4} x2={26} y1={rows[1]} y2={rows[1]} stroke="#000" strokeWidth={1.6} strokeDasharray="1.4,2.6" />
      <line x1={4} x2={26} y1={rows[2]} y2={rows[2]} stroke={RED} strokeWidth={1.5} />
      <path d={plus(15, rows[3])} stroke={TEAL} strokeWidth={1.3} fill="none" />
      {LEGEND_LABELS.map((t, i) => (
        <text key={t} x={37} y={rows[i]} dy="0.36em" fontSize={11.5} fontFamily={FONT} fill="#111">{t}</text>
      ))}
    </g>
  )
}

export default function App() {
  return (
    <svg width={W} height={H} style={{ position: 'absolute', left: 0, top: 0, background: '#fff' }}>
      <rect width={W} height={H} fill="#fff" />
      {d3.range(9).map(i => <Panel key={i} idx={i} />)}
    </svg>
  )
}
